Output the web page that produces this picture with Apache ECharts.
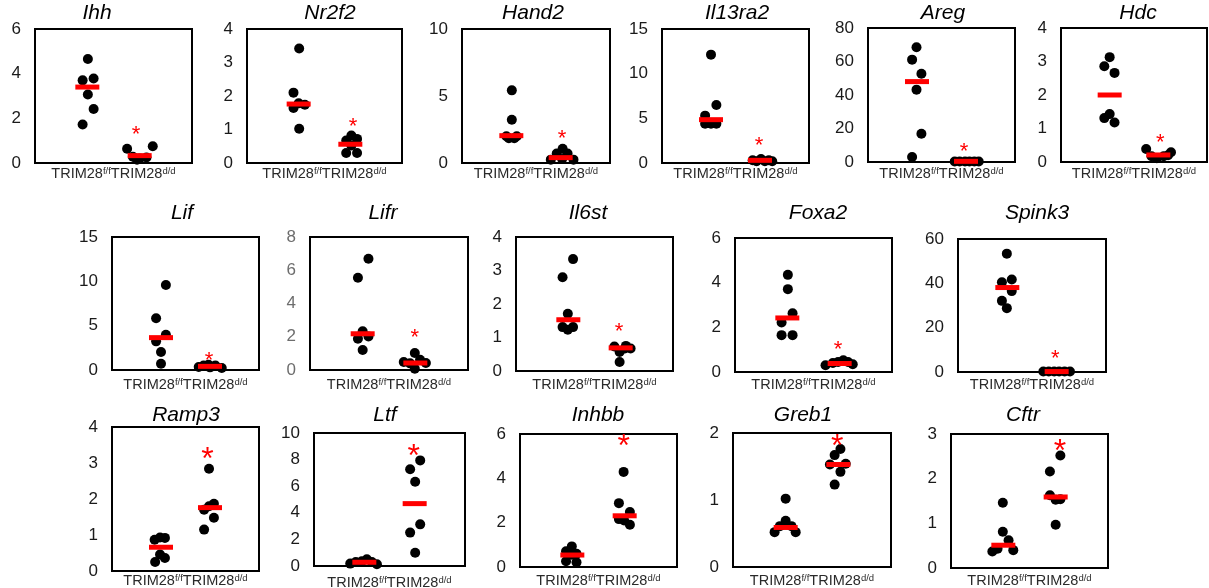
<!DOCTYPE html>
<html>
<head>
<meta charset="utf-8">
<script src="https://cdn.jsdelivr.net/npm/echarts@6/dist/echarts.min.js"></script>
<style>
html, body { margin: 0; padding: 0; background: #fff; }
#main { width: 1209px; height: 588px; }
</style>
</head>
<body>
<div id="main"></div>
<script>
const genes = ['Ihh', 'Nr2f2', 'Hand2', 'Il13ra2', 'Areg', 'Hdc',
  'Lif', 'Lifr', 'Il6st', 'Foxa2', 'Spink3',
  'Ramp3', 'Ltf', 'Inhbb', 'Greb1', 'Cftr'];
const yMax = [6, 4, 10, 15, 80, 4, 15, 8, 4, 6, 60, 4, 10, 6, 2, 3];
const yStep = [2, 1, 5, 5, 20, 1, 5, 2, 1, 2, 20, 1, 2, 2, 1, 1];
const groupNames = ['TRIM28', 'f/f', 'd/d'];

// points are [jittered x, value]; f/f sits around x=1, d/d around x=2
const ffPoints = [
  [[1.01, 4.66], [0.91, 3.70], [1.12, 3.78], [1.01, 3.07], [1.12, 2.42], [0.91, 1.72]],
  [[1.01, 3.42], [0.90, 2.10], [0.90, 1.64], [1.12, 1.74], [1.01, 1.02], [1.00, 1.78]],
  [[1.01, 5.42], [1.01, 3.23], [0.90, 1.99], [1.11, 1.99], [0.95, 1.85], [1.06, 1.85]],
  [[1.00, 12.13], [1.11, 6.49], [0.88, 5.30], [1.00, 4.40], [1.11, 4.40], [0.88, 4.40]],
  [[0.99, 68.5], [0.90, 61.1], [1.09, 52.7], [0.99, 43.2], [1.09, 16.9], [0.90, 3.0]],
  [[1.00, 3.13], [0.89, 2.86], [1.10, 2.66], [1.00, 1.43], [0.89, 1.31], [1.10, 1.18]],
  [[1.10, 9.59], [0.90, 5.83], [1.10, 3.98], [0.90, 3.23], [1.00, 2.03], [1.00, 0.71]],
  [[1.11, 6.69], [0.91, 5.55], [1.00, 2.33], [0.91, 1.88], [1.11, 2.02], [1.00, 1.20]],
  [[1.09, 3.34], [0.89, 2.80], [0.99, 1.71], [0.89, 1.31], [1.09, 1.31], [0.99, 1.23]],
  [[1.01, 4.35], [1.01, 3.71], [1.10, 2.63], [0.89, 2.22], [0.89, 1.65], [1.10, 1.65]],
  [[0.99, 53.4], [1.09, 41.7], [0.89, 40.5], [1.09, 36.5], [0.89, 32.1], [0.99, 28.8]],
  [[0.87, 0.87], [0.98, 0.93], [1.08, 0.92], [0.98, 0.46], [1.08, 0.36], [0.88, 0.25]],
  [[0.72, 0.18], [0.83, 0.30], [0.95, 0.35], [1.05, 0.50], [1.25, 0.13], [1.15, 0.30]],
  [[0.99, 0.93], [0.88, 0.71], [1.08, 0.60], [0.88, 0.26], [1.08, 0.21], [0.99, 0.55]],
  [[1.00, 1.02], [1.00, 0.69], [0.89, 0.61], [1.11, 0.61], [0.79, 0.52], [1.19, 0.52]],
  [[0.99, 1.46], [0.99, 0.81], [1.10, 0.62], [0.89, 0.43], [0.79, 0.37], [1.19, 0.40]]
];
const ddPoints = [
  [[1.76, 0.64], [2.25, 0.75], [1.87, 0.28], [2.00, 0.20], [2.13, 0.25], [1.95, 0.15]],
  [[2.02, 0.82], [2.13, 0.72], [1.92, 0.67], [1.92, 0.30], [2.13, 0.30], [2.02, 0.52]],
  [[2.04, 1.07], [1.92, 0.70], [2.14, 0.70], [1.80, 0.25], [2.26, 0.25], [2.03, 0.30]],
  [[1.85, 0.30], [2.02, 0.45], [2.25, 0.19], [1.93, 0.20], [2.10, 0.20], [2.18, 0.30]],
  [[1.77, 0.3], [1.87, 0.3], [1.98, 0.3], [2.07, 0.3], [2.17, 0.3], [2.26, 0.3]],
  [[1.75, 0.39], [2.26, 0.29], [1.86, 0.17], [1.97, 0.11], [2.11, 0.17], [2.20, 0.20]],
  [[1.77, 0.34], [1.87, 0.50], [1.97, 0.60], [2.11, 0.50], [2.24, 0.23], [2.00, 0.30]],
  [[1.99, 1.02], [1.78, 0.48], [2.09, 0.62], [2.20, 0.42], [1.99, 0.08], [1.90, 0.40]],
  [[1.88, 0.73], [2.10, 0.75], [2.19, 0.67], [1.98, 0.57], [1.98, 0.27], [2.08, 0.67]],
  [[1.73, 0.30], [2.07, 0.53], [2.25, 0.35], [1.87, 0.40], [1.97, 0.45], [2.16, 0.45]],
  [[1.73, 0.2], [1.84, 0.2], [1.95, 0.2], [2.05, 0.2], [2.16, 0.2], [2.27, 0.2]],
  [[1.98, 2.84], [2.08, 1.87], [1.88, 1.70], [2.08, 1.48], [1.88, 1.15], [1.98, 1.80]],
  [[2.11, 7.94], [1.91, 7.27], [2.01, 6.34], [2.11, 3.13], [1.91, 2.51], [2.01, 1.00]],
  [[1.98, 4.29], [1.89, 2.88], [2.10, 2.48], [1.89, 2.16], [1.99, 2.10], [2.10, 1.91]],
  [[2.04, 1.76], [1.93, 1.67], [1.84, 1.53], [2.14, 1.54], [2.04, 1.42], [1.93, 1.23]],
  [[2.09, 2.52], [1.89, 2.16], [1.89, 1.63], [2.00, 1.53], [2.09, 1.54], [2.00, 0.97]]
];
const ffMean = [3.40, 1.76, 2.04, 4.85, 48.0, 2.00, 3.65, 2.18, 1.53, 2.42, 38.1, 0.66, 0.28, 0.54, 0.59, 0.51];
const ddMean = [0.33, 0.56, 0.40, 0.30, 0.4, 0.21, 0.41, 0.42, 0.69, 0.38, 0.2, 1.76, 4.69, 2.31, 1.53, 1.59];
// significance mark position [x, value]
const starPos = [
  [1.93, 1.52], [2.05, 1.25], [2.03, 2.24], [1.98, 2.54], [1.96, 9.4], [2.04, 0.74],
  [1.98, 1.73], [1.99, 2.26], [1.97, 1.35], [1.97, 1.25], [1.97, 8.7],
  [1.95, 3.31], [1.98, 8.75], [1.98, 5.76], [1.98, 1.91], [2.08, 2.78]
];

// layout: plot box [left, top, width, height], title centre, x label centre y, star font
const boxes = [
  [35, 29, 157, 134], [247, 29, 155, 134], [462, 29, 148, 134],
  [662, 29, 147, 134], [868, 28, 147, 134], [1061, 28, 146, 134],
  [112, 237, 147, 133], [310, 237, 158, 133], [516, 237, 157, 134],
  [735, 238, 157, 134], [958, 239, 148, 133],
  [112, 427, 147, 144], [314, 433, 151, 133], [520, 434, 157, 133],
  [733, 433, 158, 134], [951, 434, 157, 134]
];
const titleX = [97, 330, 533, 737, 943, 1138, 182, 383, 588, 818, 1037, 186, 385, 598, 803, 1023];
const rowOf = [0, 0, 0, 0, 0, 0, 1, 1, 1, 1, 1, 2, 2, 2, 2, 2];
const titleY = [13, 213, 415];
const xLabelY = [173, 384, 580];
const starFont = [22, 22, 32];

const FONT = '"Liberation Sans", Arial, sans-serif';

const grids = [];
const xAxes = [];
const yAxes = [];
const titles = [];
const series = [];

genes.forEach(function (g, i) {
  const b = boxes[i];
  const row = rowOf[i];
  grids.push({
    left: b[0], top: b[1], width: b[2], height: b[3],
    show: true, borderColor: '#000', borderWidth: 2,
    backgroundColor: 'transparent',
    containLabel: false, outerBoundsMode: 'none'
  });
  titles.push({
    text: g,
    left: titleX[i], top: titleY[row],
    textAlign: 'center', textVerticalAlign: 'middle', padding: 0,
    textStyle: { fontStyle: 'italic', fontWeight: 'normal', fontSize: 21, color: '#000', fontFamily: FONT }
  });
  const gap = (i === 12 ? 582 : xLabelY[row]) - (b[1] + b[3]) - 7;
  xAxes.push({
    gridIndex: i, type: 'value', min: 0, max: 3,
    axisLine: { show: false }, axisTick: { show: false },
    axisLabel: { show: false }, splitLine: { show: false },
    name: '{m|' + groupNames[0] + '}{s|' + groupNames[1] + '}{m|' + groupNames[0] + '}{s|' + groupNames[2] + '}',
    nameLocation: 'middle', nameGap: gap,
    nameTextStyle: {
      fontSize: 14.5, color: '#2a2a2a', fontFamily: FONT,
      rich: {
        m: { fontSize: 14.5, color: '#2a2a2a', fontFamily: FONT },
        s: { fontSize: 9.5, color: '#2a2a2a', fontFamily: FONT, verticalAlign: 'top' }
      }
    }
  });
  yAxes.push({
    gridIndex: i, type: 'value', min: 0, max: yMax[i], interval: yStep[i],
    axisLine: { show: false }, axisTick: { show: false }, splitLine: { show: false },
    axisLabel: { fontSize: 17, margin: 14, color: i === 7 ? '#6d6d6d' : '#1a1a1a', fontFamily: FONT }
  });
  series.push({
    type: 'scatter', xAxisIndex: i, yAxisIndex: i,
    symbol: 'circle', symbolSize: 10, itemStyle: { color: '#000', opacity: 1 },
    data: ffPoints[i].concat(ddPoints[i]), silent: true
  });
  series.push({
    type: 'scatter', xAxisIndex: i, yAxisIndex: i,
    symbol: 'rect', symbolSize: [24, 5], itemStyle: { color: '#ff0000', opacity: 1 },
    data: [[1, ffMean[i]], [2, ddMean[i]]], silent: true
  });
  const sf = starFont[row];
  series.push({
    type: 'scatter', xAxisIndex: i, yAxisIndex: i,
    symbol: 'circle', symbolSize: 1, itemStyle: { color: 'rgba(0,0,0,0)', opacity: 1 },
    data: [starPos[i]], silent: true,
    label: {
      show: true, position: 'inside', formatter: '*', opacity: 1,
      color: '#ff0000', fontSize: sf, fontFamily: FONT,
      offset: [0, Math.round(sf * 0.25)]
    }
  });
});

const chart = echarts.init(document.getElementById('main'), null, { renderer: 'canvas' });
chart.setOption({
  animation: false,
  backgroundColor: '#fff',
  title: titles,
  grid: grids,
  xAxis: xAxes,
  yAxis: yAxes,
  series: series
});
</script>
</body>
</html>
